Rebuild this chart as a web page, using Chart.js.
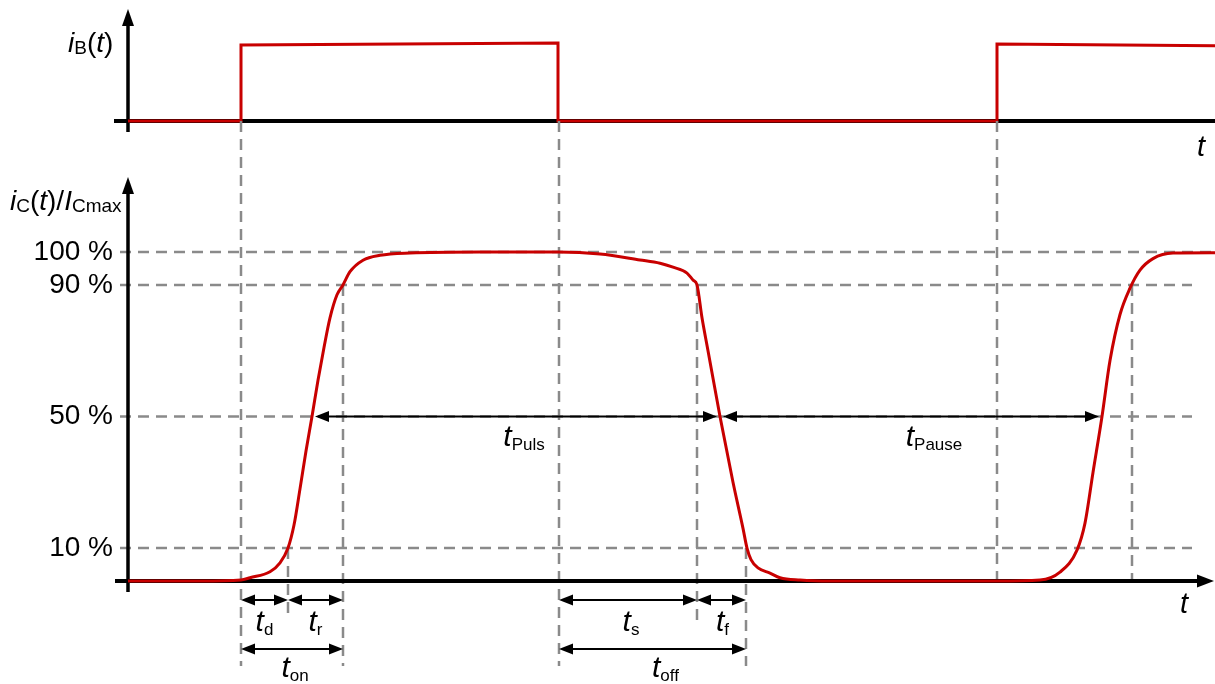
<!DOCTYPE html>
<html>
<head>
<meta charset="utf-8">
<script src="https://cdn.jsdelivr.net/npm/chart.js@4.4.1/dist/chart.umd.min.js"></script>
<style>
html, body { margin: 0; background: #fff; }
#wrap { position: relative; width: 1215px; height: 684px; }
canvas { position: absolute; left: 0; top: 0; }
</style>
</head>
<body>
<div id="wrap">
  <canvas id="cB" width="1215" height="684"></canvas>
  <canvas id="cC" width="1215" height="684"></canvas>
</div>
<script>
var RED = '#c80000';
var GREY = '#8a8a8a';
var FONT = '"Liberation Sans", Arial, Helvetica, sans-serif';

// base current iB(t), relative to its on-level
var baseTime    = [0, 1.13, 1.13, 4.30, 4.30, 8.69, 8.69, 10.87];
var baseCurrent = [0, 0,    1.00, 1.026, 0,   0,    1.013, 0.99];

// collector current iC(t)/ICmax in %
var collTime = [0, 0.72, 1.13, 1.22, 1.42, 1.52, 1.60, 1.66, 1.72, 1.78, 1.84, 1.90, 1.96, 2.02, 2.09, 2.15, 2.22, 2.35, 2.52, 2.82, 3.52,
                4.30, 4.72, 5.12, 5.32, 5.45, 5.59, 5.65, 5.69, 5.74, 5.80, 5.92, 6.05, 6.15, 6.19, 6.23, 6.30, 6.42, 6.52, 6.72, 7.02,
                8.69, 9.12, 9.32, 9.49, 9.57, 9.65, 9.74, 9.82, 9.92, 10.02, 10.12, 10.25, 10.45, 10.87];
var collPct  = [0, 0, 0.3, 1, 2.8, 5.5, 10, 17, 28, 39.5, 50, 61, 71, 80, 87, 90, 94, 97.5, 99, 99.7, 100,
                100, 99.4, 97.6, 96.6, 95.4, 93.6, 91.5, 90, 80, 70, 50, 30, 16, 10, 6.5, 4, 2.4, 1, 0.3, 0,
                0, 0.3, 2.7, 9.4, 17.6, 33, 50, 67, 81, 89, 94.5, 98, 99.7, 99.8];

// level ticks of the collector current
var levelTicks = [10, 50, 90, 100];

// switching instants
var edgeTime   = [1.13, 4.31, 8.69];   // base current edges
var riseCross  = [1.60, 1.84, 2.15];   // 10 %, 50 %, 90 % on turn-on
var fallCross  = [5.69, 5.92, 6.18];   // 90 %, 50 %, 10 % on turn-off
var rise2Cross = [9.74, 10.04];        // 50 %, 90 % on next turn-on

// time spans
var spanName = ['d', 'r', 'on', 's', 'f', 'off', 'Puls', 'Pause'];
var spanFrom = [edgeTime[0], riseCross[0], edgeTime[0], edgeTime[1], fallCross[0], edgeTime[1], riseCross[1], fallCross[1]];
var spanTo   = [riseCross[0], riseCross[2], riseCross[2], fallCross[0], fallCross[2], fallCross[2], fallCross[1], rise2Cross[0]];
var spanRow  = [1, 1, 2, 1, 1, 2, 0, 0];

Chart.defaults.font.family = FONT;

function drawRich(ctx, x, y, parts) {
  parts.forEach(function (p) {
    ctx.font = (p.it ? 'italic ' : '') + p.size + 'px ' + FONT;
    ctx.fillText(p.s, x, y + (p.dy || 0));
    x += ctx.measureText(p.s).width;
  });
}
function richWidth(ctx, parts) {
  var w = 0;
  parts.forEach(function (p) {
    ctx.font = (p.it ? 'italic ' : '') + p.size + 'px ' + FONT;
    w += ctx.measureText(p.s).width;
  });
  return w;
}
function head(ctx, x, y, dir, len, half) {
  ctx.beginPath();
  ctx.moveTo(x, y);
  ctx.lineTo(x - dir * len, y - half);
  ctx.lineTo(x - dir * len, y + half);
  ctx.closePath();
  ctx.fill();
}
function headUp(ctx, x, y, len, half) {
  ctx.beginPath();
  ctx.moveTo(x, y);
  ctx.lineTo(x - half, y + len);
  ctx.lineTo(x + half, y + len);
  ctx.closePath();
  ctx.fill();
}
function dArrow(ctx, x1, x2, y) {
  ctx.lineWidth = 2;
  ctx.beginPath();
  ctx.moveTo(x1 + 6, y);
  ctx.lineTo(x2 - 6, y);
  ctx.stroke();
  head(ctx, x1, y, -1, 14, 5.5);
  head(ctx, x2, y, 1, 14, 5.5);
}
function dashed(ctx, x1, y1, x2, y2) {
  ctx.beginPath();
  ctx.moveTo(x1, y1);
  ctx.lineTo(x2, y2);
  ctx.stroke();
}

// ---------- top panel: iB(t) ----------
var axesTop = {
  id: 'axesTop',
  beforeDatasetsDraw: function (chart) {
    var ctx = chart.ctx, a = chart.chartArea;
    var y0 = chart.scales.y.getPixelForValue(0);
    ctx.save();
    ctx.fillStyle = ctx.strokeStyle = '#000';
    ctx.lineWidth = 4;
    dashed(ctx, a.left - 14, y0, a.right, y0);
    ctx.lineWidth = 3.5;
    dashed(ctx, a.left, y0 + 11, a.left, 22);
    headUp(ctx, a.left, 9, 17, 6);
    drawRich(ctx, 68, 52, [
      { s: 'i', it: true, size: 28 }, { s: 'B', size: 19, dy: 2 },
      { s: '(', size: 28 }, { s: 't', it: true, size: 28 }, { s: ')', size: 28 }
    ]);
    drawRich(ctx, 1197, 156, [{ s: 't', it: true, size: 29 }]);
    ctx.restore();
  }
};

var chartB = new Chart(document.getElementById('cB'), {
  type: 'line',
  data: {
    datasets: [{
      data: baseTime.map(function (t, i) { return { x: t, y: baseCurrent[i] }; }),
      borderColor: RED,
      borderWidth: 3,
      borderJoinStyle: 'miter',
      pointRadius: 0,
      tension: 0,
      fill: false,
      clip: false
    }]
  },
  options: {
    responsive: false,
    animation: false,
    devicePixelRatio: 1,
    layout: { padding: { left: 128, right: 0, top: 45, bottom: 563 } },
    plugins: { legend: { display: false }, tooltip: { enabled: false } },
    scales: {
      x: { type: 'linear', min: 0, max: 10.87, display: false },
      y: { min: 0, max: 1, display: false }
    }
  },
  plugins: [axesTop]
});

// ---------- bottom panel: iC(t)/ICmax ----------
var axesBottom = {
  id: 'axesBottom',
  beforeDatasetsDraw: function (chart) {
    var ctx = chart.ctx, a = chart.chartArea;
    var xs = chart.scales.x, ys = chart.scales.y;
    var y0 = ys.getPixelForValue(0);
    var topY = chartB.scales.y.getPixelForValue(0);
    ctx.save();
    ctx.strokeStyle = GREY;
    ctx.lineWidth = 2.5;
    ctx.setLineDash([11, 7]);
    levelTicks.forEach(function (v) {
      var y = ys.getPixelForValue(v);
      dashed(ctx, a.left - 8, y, v === 100 ? a.right : 1192, y);
    });
    var vlines = [
      [edgeTime[0], topY, 666],
      [riseCross[0], ys.getPixelForValue(10), 620],
      [riseCross[2], ys.getPixelForValue(90), 666],
      [edgeTime[1], topY, 666],
      [fallCross[0], ys.getPixelForValue(90), 620],
      [fallCross[2], ys.getPixelForValue(10), 666],
      [edgeTime[2], topY, y0],
      [rise2Cross[1], ys.getPixelForValue(90), y0]
    ];
    vlines.forEach(function (l) {
      var x = xs.getPixelForValue(l[0]);
      dashed(ctx, x, l[1], x, l[2]);
    });
    ctx.setLineDash([]);
    ctx.fillStyle = ctx.strokeStyle = '#000';
    ctx.lineWidth = 4;
    dashed(ctx, a.left - 13, y0, a.right - 16, y0);
    head(ctx, a.right - 1, y0, 1, 17, 6.5);
    ctx.lineWidth = 3.5;
    dashed(ctx, a.left, y0 + 11, a.left, 192);
    headUp(ctx, a.left, 177, 17, 6);
    ctx.restore();
  },
  afterDatasetsDraw: function (chart) {
    var ctx = chart.ctx;
    var xs = chart.scales.x, ys = chart.scales.y;
    var mid = ys.getPixelForValue(50);
    var rowArrow = [mid, 600, 649];
    var rowText = [mid + 29, 631, 677];
    var shift = [0, 0, 3, 3, 1, 13, 8, 23];
    ctx.save();
    ctx.fillStyle = ctx.strokeStyle = '#000';
    spanName.forEach(function (name, i) {
      var x1 = xs.getPixelForValue(spanFrom[i]);
      var x2 = xs.getPixelForValue(spanTo[i]);
      var r = spanRow[i];
      if (r === 0) { x1 += 3; x2 -= 3; }
      dArrow(ctx, x1, x2, rowArrow[r]);
      var parts = [{ s: 't', it: true, size: 30 }, { s: name, size: 17, dy: 4 }];
      var w = richWidth(ctx, parts);
      drawRich(ctx, (x1 + x2) / 2 - w / 2 + shift[i], rowText[r], parts);
    });
    drawRich(ctx, 10, 210, [
      { s: 'i', it: true, size: 28 }, { s: 'C', size: 19, dy: 2 },
      { s: '(', size: 28 }, { s: 't', it: true, size: 28 }, { s: ')/', size: 28 },
      { s: 'I', it: true, size: 28 }, { s: 'Cmax', size: 19, dy: 2 }
    ]);
    drawRich(ctx, 1180, 613, [{ s: 't', it: true, size: 29 }]);
    ctx.restore();
  }
};

new Chart(document.getElementById('cC'), {
  type: 'line',
  data: {
    datasets: [{
      data: collTime.map(function (t, i) { return { x: t, y: collPct[i] }; }),
      borderColor: RED,
      borderWidth: 3,
      pointRadius: 0,
      cubicInterpolationMode: 'monotone',
      fill: false,
      clip: false
    }]
  },
  options: {
    responsive: false,
    animation: false,
    devicePixelRatio: 1,
    layout: { padding: { left: 0, right: 0, top: 252, bottom: 103 } },
    plugins: { legend: { display: false }, tooltip: { enabled: false } },
    scales: {
      x: { type: 'linear', min: 0, max: 10.87, display: false },
      y: {
        min: 0,
        max: 100,
        afterFit: function (s) { s.width = 128; },
        afterBuildTicks: function (s) {
          s.ticks = levelTicks.map(function (v) { return { value: v }; });
        },
        grid: { display: false, drawTicks: false },
        border: { display: false },
        ticks: {
          padding: 15,
          color: '#000',
          font: { size: 28 },
          callback: function (v) { return v + ' %'; }
        }
      }
    }
  },
  plugins: [axesBottom]
});
</script>
</body>
</html>
